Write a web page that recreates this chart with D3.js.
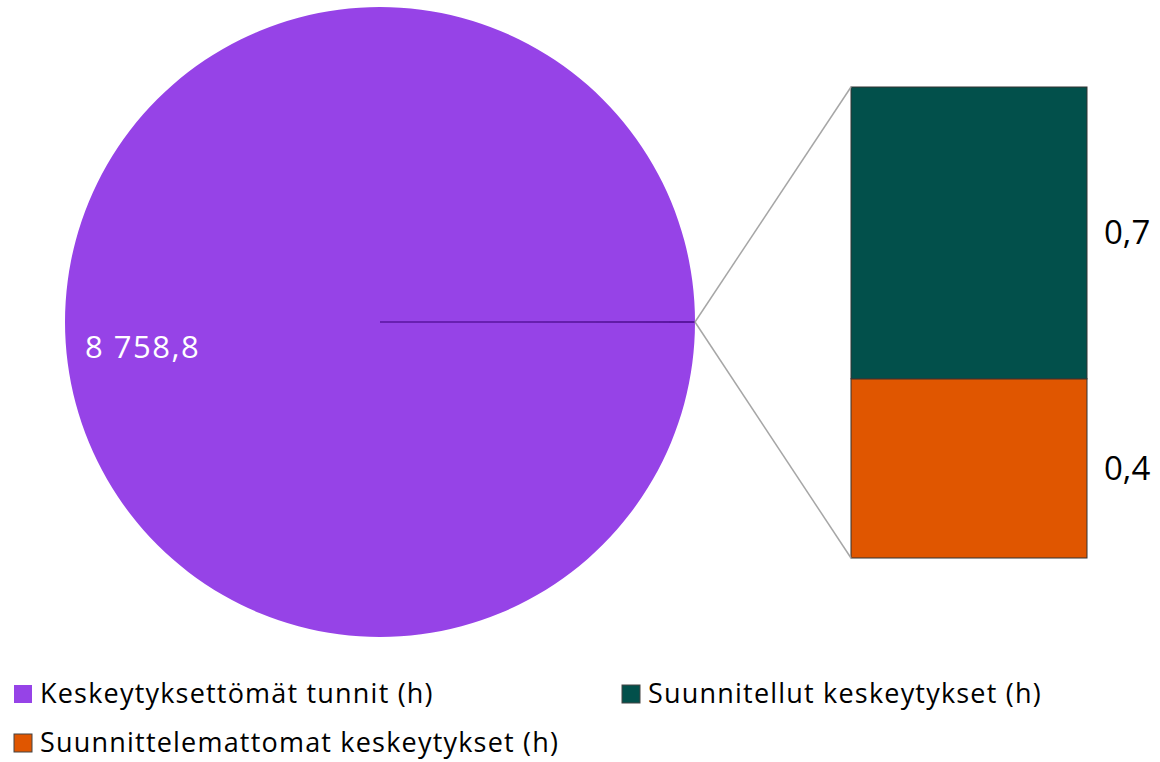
<!DOCTYPE html>
<html>
<head>
<meta charset="utf-8">
<script src="https://cdn.jsdelivr.net/npm/d3@7"></script>
<style>
  body { margin: 0; background: #fff; }
  svg text { font-family: "Open Sans", sans-serif; }
</style>
</head>
<body>
<svg id="chart" width="1160" height="762"></svg>
<script>
// data: pie of bar, the two small slices are grouped into the bar on the right
var mainLabel   = "Keskeytyksettömät tunnit (h)";
var mainValue   = 8758.8;
var barLabels   = ["Suunnitellut keskeytykset (h)", "Suunnittelemattomat keskeytykset (h)"];
var barValues   = [0.7, 0.43];
var barText     = ["0,7", "0,4"];
var mainText    = "8 758,8";
var legendOrder = ["Keskeytyksettömät tunnit (h)", "Suunnitellut keskeytykset (h)", "Suunnittelemattomat keskeytykset (h)"];

var colors = {};
colors[legendOrder[0]] = "#9643e7";
colors[legendOrder[1]] = "#02504b";
colors[legendOrder[2]] = "#e05600";

var svg = d3.select("#chart");

var cx = 380, cy = 322, r = 315;
var otherSum = d3.sum(barValues);

// pie with the "other" slice centred at 3 o'clock
var pieData = [{name: "other", value: otherSum}, {name: mainLabel, value: mainValue}];
var halfOther = Math.PI * otherSum / (otherSum + mainValue);
var pie = d3.pie().sort(null).value(function(d) { return d.value; })
            .startAngle(Math.PI / 2 - halfOther)
            .endAngle(Math.PI / 2 - halfOther + 2 * Math.PI);
var arc = d3.arc().innerRadius(0).outerRadius(r);

var g = svg.append("g").attr("transform", "translate(" + cx + "," + cy + ")");
// draw the big slice first so the thin one (the dark line) stays on top
g.selectAll("path.slice")
  .data(pie(pieData).reverse())
  .enter().append("path")
  .attr("class", "slice")
  .attr("d", arc)
  .attr("fill", colors[mainLabel])
  .attr("stroke", function(d) { return d.data.name === "other" ? "#5a16a0" : "none"; })
  .attr("stroke-width", 1.5);

g.append("text")
  .attr("x", -r + 20)
  .attr("y", 36)
  .attr("fill", "#fff")
  .attr("font-size", 31)
  .attr("letter-spacing", 1.5)
  .text(mainText);

// stacked bar for the small slices
var barX = d3.scaleBand().domain(["other"]).range([851, 1087]).padding(0);
var barY = d3.scaleLinear().domain([0, otherSum]).range([558, 87]);

// first category sits on top
var stack = [];
var acc = 0;
for (var i = barValues.length - 1; i >= 0; i--) {
  stack.push({name: barLabels[i], y0: acc, y1: acc + barValues[i], text: barText[i]});
  acc += barValues[i];
}

svg.selectAll("rect.seg")
  .data(stack)
  .enter().append("rect")
  .attr("class", "seg")
  .attr("x", barX("other"))
  .attr("width", barX.bandwidth())
  .attr("y", function(d) { return barY(d.y1); })
  .attr("height", function(d) { return barY(d.y0) - barY(d.y1); })
  .attr("fill", function(d) { return colors[d.name]; })
  .attr("stroke", "#333")
  .attr("stroke-width", 1);

svg.selectAll("text.seglabel")
  .data(stack)
  .enter().append("text")
  .attr("class", "seglabel")
  .attr("x", barX("other") + barX.bandwidth() + 17)
  .attr("y", function(d) { return (barY(d.y0) + barY(d.y1)) / 2; })
  .attr("dy", "0.35em")
  .attr("font-size", 33)
  .attr("fill", "#000")
  .text(function(d) { return d.text; });

// connector lines
var edgeX = cx + r, edgeY = cy;
[barY(otherSum), barY(0)].forEach(function(yy) {
  svg.append("line")
    .attr("x1", edgeX).attr("y1", edgeY)
    .attr("x2", barX("other")).attr("y2", yy)
    .attr("stroke", "#a6a6a6")
    .attr("stroke-width", 1.5);
});

// legend
var legendPos = [[14, 694], [622, 694], [14, 743]];
var lg = svg.selectAll("g.legend")
  .data(legendOrder)
  .enter().append("g")
  .attr("class", "legend")
  .attr("transform", function(d, i) { return "translate(" + legendPos[i][0] + "," + legendPos[i][1] + ")"; });
lg.append("rect")
  .attr("x", 0).attr("y", -9)
  .attr("width", 18).attr("height", 18)
  .attr("fill", function(d) { return colors[d]; })
  .attr("stroke", function(d, i) { return i === 0 ? "none" : "#444"; })
  .attr("stroke-width", 1);
lg.append("text")
  .attr("x", 26)
  .attr("y", 9)
  .attr("font-size", 27)
  .attr("letter-spacing", 1.2)
  .attr("fill", "#000")
  .text(function(d) { return d; });
</script>
</body>
</html>
